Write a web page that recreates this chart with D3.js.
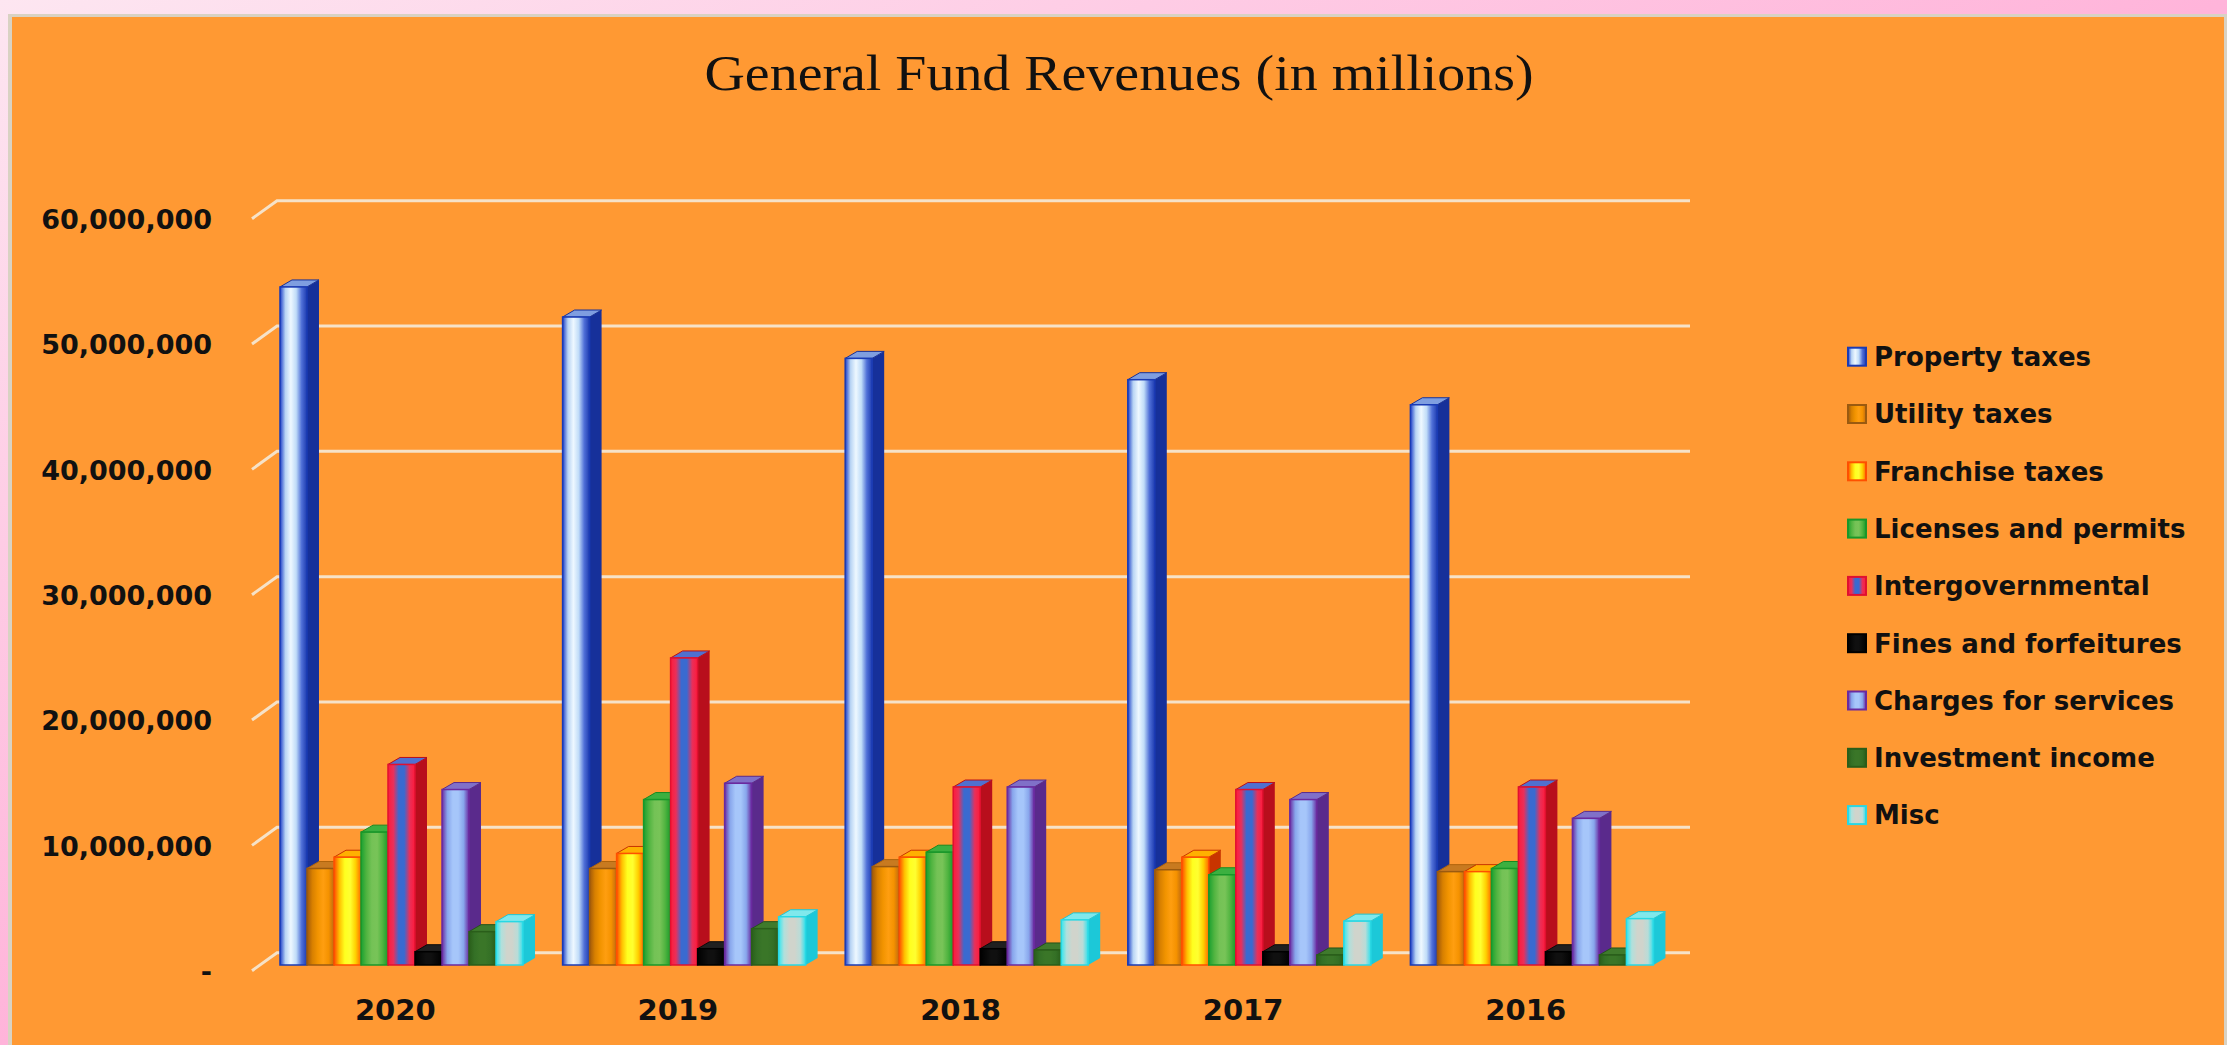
<!DOCTYPE html>
<html>
<head>
<meta charset="utf-8">
<script src="https://cdn.jsdelivr.net/npm/d3@7"></script>
<style>
  html, body { margin: 0; padding: 0; overflow: hidden; background: #ffb8dc; }
  svg { display: block; }
</style>
</head>
<body>
<script>
// data (dollars)
const years = ["2020", "2019", "2018", "2017", "2016"];
const seriesNames = ["Property taxes", "Utility taxes", "Franchise taxes", "Licenses and permits",
    "Intergovernmental", "Fines and forfeitures", "Charges for services", "Investment income", "Misc"];
const propertyTaxes = [54100000, 51700000, 48400000, 46700000, 44700000];
const utilityTaxes = [7700000, 7700000, 7850000, 7600000, 7450000];
const franchiseTaxes = [8600000, 8900000, 8600000, 8600000, 7450000];
const licensesPermits = [10600000, 13200000, 9000000, 7200000, 7700000];
const intergovernmental = [16000000, 24500000, 14200000, 14000000, 14200000];
const finesForfeitures = [1060000, 1300000, 1300000, 1060000, 1060000];
const chargesServices = [14000000, 14500000, 14200000, 13200000, 11700000];
const investmentIncome = [2660000, 2900000, 1200000, 800000, 800000];
const misc = [3460000, 3850000, 3600000, 3500000, 3700000];
const yTicks = [0, 10000000, 20000000, 30000000, 40000000, 50000000, 60000000];

const seriesValues = [propertyTaxes, utilityTaxes, franchiseTaxes, licensesPermits,
    intergovernmental, finesForfeitures, chargesServices, investmentIncome, misc];

// vzhled sloupcu (gradient predni steny, bok, vrsek)
const barStyles = [
    { stops: ["#1d3ec8", "#b8d4f4", "#eef8ff", "#c0dcf8", "#5070d8", "#1d3bb0"], side: "#16309a", top: "#7f9ee0", edge: "#1a3bb5" },
    { stops: ["#a0580a", "#d88000", "#f29400", "#ff9e10", "#f59200", "#c06a10"], side: "#b0640c", top: "#c87a20", edge: "#9a5a10" },
    { stops: ["#ff4a00", "#ffc000", "#ffff20", "#ffff30", "#ffd000", "#ff6a00"], side: "#c83400", top: "#ffb000", edge: "#ff5000" },
    { stops: ["#1aa030", "#50b440", "#74c256", "#78c458", "#50b440", "#1a9a2a"], side: "#168a22", top: "#3cb040", edge: "#18982a" },
    { stops: ["#ff1a3a", "#e8305a", "#3a6ad0", "#3a6ad0", "#e8305a", "#ff1a3a"], side: "#b80e1c", top: "#5070d0", edge: "#e01030" },
    { stops: ["#000000", "#080808", "#101010", "#101010", "#080808", "#000000"], side: "#0a0a0a", top: "#202020", edge: "#000000" },
    { stops: ["#6a2aa0", "#88a6ec", "#a6c6fa", "#a6c6fa", "#88a6ec", "#6a2aa0"], side: "#5a2a8c", top: "#8070c8", edge: "#6a2aa0" },
    { stops: ["#2a5e1a", "#347026", "#3a7628", "#3a7628", "#347026", "#2a5e1a"], side: "#24541a", top: "#3f7a2c", edge: "#2a5e1a" },
    { stops: ["#30e8f0", "#b0e0dc", "#d0d4cc", "#d0d4cc", "#b8dcd8", "#30e0ec"], side: "#1cc8d8", top: "#80e8ec", edge: "#28d8e4" }
];

const series = seriesNames.map((name, i) => ({ name: name, values: seriesValues[i], style: barStyles[i] }));

const W = 2227, H = 1045;
const wallLeft = 277, wallRight = 1690;
const floorDx = 25, floorDy = 18;   // sikma hrana podlahy
const barDx = -16.8, barDy = 12.3;  // posun prednich sten sloupcu
const depthDx = 12, depthDy = 7;    // hloubka sloupce

const svg = d3.select("body").append("svg")
    .attr("width", W)
    .attr("height", H);

const x = d3.scaleBand()
    .domain(years)
    .range([wallLeft, wallRight])
    .paddingInner(0.14)
    .paddingOuter(0.07);

const inner = d3.scaleBand()
    .domain(seriesNames)
    .range([0, x.bandwidth()]);

const y = d3.scaleLinear()
    .domain([0, 60000000])
    .range([952.7, 200.7]);

function buildDefs() {
    const defs = svg.append("defs");
    const frame = defs.append("linearGradient")
        .attr("id", "frame")
        .attr("x1", "0").attr("y1", "0")
        .attr("x2", "1").attr("y2", "1");
    frame.append("stop").attr("offset", "0").attr("stop-color", "#fde6f1");
    frame.append("stop").attr("offset", "0.5").attr("stop-color", "#ffb4da");
    frame.append("stop").attr("offset", "1").attr("stop-color", "#ff92cc");
    series.forEach((s, i) => {
        const g = defs.append("linearGradient")
            .attr("id", `grad${i}`)
            .attr("x1", "0").attr("y1", "0")
            .attr("x2", "1").attr("y2", "0");
        s.style.stops.forEach((c, j) => {
            g.append("stop")
                .attr("offset", j / (s.style.stops.length - 1))
                .attr("stop-color", c);
        });
    });
}

function buildBackground() {
    svg.append("rect")
        .attr("width", W).attr("height", H)
        .attr("fill", "url(#frame)");
    svg.append("rect")
        .attr("x", 8).attr("y", 14)
        .attr("width", W - 8).attr("height", H - 14)
        .attr("fill", "#d9d2c3");
    svg.append("rect")
        .attr("x", 12).attr("y", 17)
        .attr("width", W - 15).attr("height", H - 17)
        .attr("fill", "#ff9933");
}

function buildTitle() {
    svg.append("text")
        .attr("x", 1119)
        .attr("y", 90)
        .attr("text-anchor", "middle")
        .attr("font-family", "Liberation Serif, DejaVu Serif, serif")
        .attr("font-size", 50)
        .attr("textLength", 829)
        .attr("lengthAdjust", "spacingAndGlyphs")
        .attr("fill", "#111")
        .text("General Fund Revenues (in millions)");
}

function buildGrid() {
    const line = d3.line();
    svg.append("g")
        .attr("class", "grid")
        .selectAll("path")
        .data(yTicks)
        .join("path")
        .attr("d", d => line([[wallLeft - floorDx, y(d) + floorDy], [wallLeft, y(d)], [wallRight, y(d)]]))
        .attr("fill", "none")
        .attr("stroke", "#f6e2c8")
        .attr("stroke-width", 3);
}

function buildAxes() {
    const fmt = d3.format(",");
    const yAxis = d3.axisLeft(y)
        .tickValues(yTicks)
        .tickSize(0)
        .tickPadding(0)
        .tickFormat(d => d === 0 ? "-" : fmt(d));
    svg.append("g")
        .attr("transform", `translate(212,${floorDy + 1})`)
        .call(yAxis)
        .call(g => g.select(".domain").remove())
        .attr("font-family", "DejaVu Sans, Verdana, sans-serif")
        .attr("font-weight", "bold")
        .attr("font-size", 27)
        .attr("color", "#111");

    const xAxis = d3.axisBottom(x)
        .tickSize(0)
        .tickPadding(0);
    svg.append("g")
        .attr("transform", "translate(-23,999)")
        .call(xAxis)
        .call(g => g.select(".domain").remove())
        .attr("font-family", "DejaVu Sans, Verdana, sans-serif")
        .attr("font-weight", "bold")
        .attr("font-size", 29)
        .attr("color", "#111");
}

function buildBars() {
    const base = y(0) + barDy;
    const groups = svg.append("g")
        .attr("class", "bars")
        .selectAll("g")
        .data(years)
        .join("g")
        .attr("transform", d => `translate(${x(d) + barDx},0)`);

    groups.each(function (year, yi) {
        const grp = d3.select(this);
        series.forEach((s, si) => {
            const bx = inner(s.name);
            const bw = inner.bandwidth();
            const top = y(s.values[yi]) + barDy;
            const bar = grp.append("g");
            // bok
            bar.append("path")
                .attr("d", `M${bx + bw},${top}L${bx + bw + depthDx},${top - depthDy}L${bx + bw + depthDx},${base - depthDy}L${bx + bw},${base}Z`)
                .attr("fill", s.style.side);
            // vrsek
            bar.append("path")
                .attr("d", `M${bx},${top}L${bx + depthDx},${top - depthDy}L${bx + bw + depthDx},${top - depthDy}L${bx + bw},${top}Z`)
                .attr("fill", s.style.top)
                .attr("stroke", s.style.side)
                .attr("stroke-width", 1);
            // predni stena
            bar.append("rect")
                .attr("x", bx)
                .attr("y", top)
                .attr("width", bw)
                .attr("height", base - top)
                .attr("fill", `url(#grad${si})`)
                .attr("stroke", s.style.edge)
                .attr("stroke-width", 1.5);
        });
    });
}

function buildLegend() {
    const items = svg.append("g")
        .attr("class", "legend")
        .selectAll("g")
        .data(series)
        .join("g")
        .attr("transform", (d, i) => `translate(1848,${356.7 + i * 57.3})`);
    items.append("rect")
        .attr("x", 0)
        .attr("y", -9)
        .attr("width", 18)
        .attr("height", 18)
        .attr("fill", (d, i) => `url(#grad${i})`)
        .attr("stroke", d => d.style.edge)
        .attr("stroke-width", 2);
    items.append("text")
        .attr("x", 26)
        .attr("y", 0)
        .attr("dy", "0.36em")
        .attr("font-family", "DejaVu Sans, Verdana, sans-serif")
        .attr("font-weight", "bold")
        .attr("font-size", 26)
        .attr("fill", "#111")
        .text(d => d.name);
}

buildDefs();
buildBackground();
buildTitle();
buildGrid();
buildAxes();
buildBars();
buildLegend();
</script>
</body>
</html>
